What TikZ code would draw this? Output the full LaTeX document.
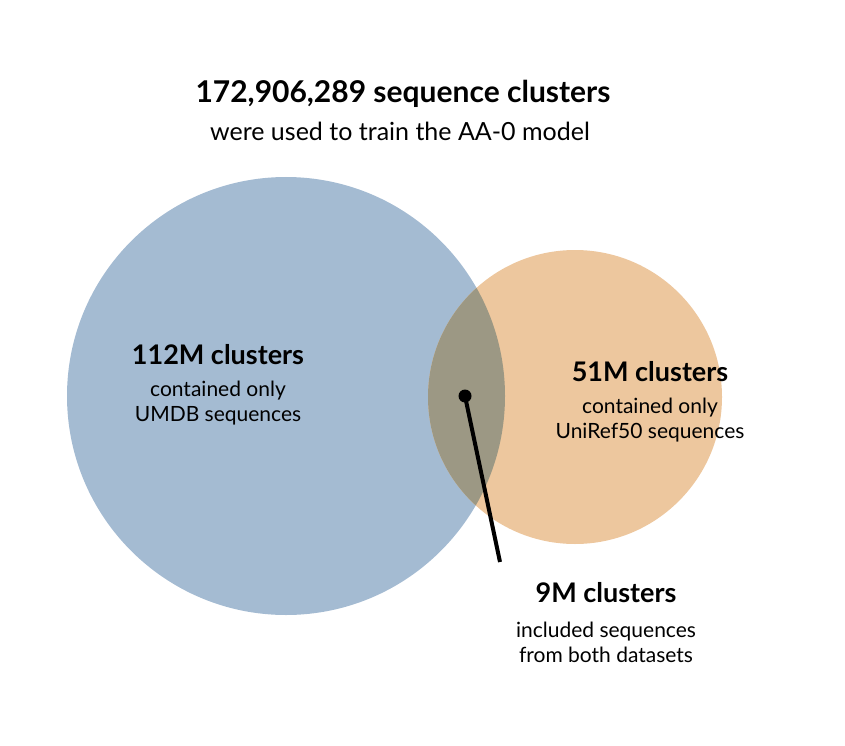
\documentclass[tikz,border=0pt]{standalone}
\usepackage{fontspec}
\setmainfont{Lato}
\definecolor{cblue}{HTML}{A4BBD2}
\definecolor{corange}{HTML}{EDC79E}
\definecolor{cmix}{HTML}{9C9884}
\begin{document}
\begin{tikzpicture}[x=1pt,y=-1pt,
 big/.style={font=\fontsize{30}{34}\selectfont\bfseries},
 head/.style={font=\fontsize{27}{30}\selectfont\bfseries},
 sub/.style={font=\fontsize{21}{25}\selectfont,align=center}]
\useasboundingbox (0,0) rectangle (845,746);
\fill[cblue] (286,396) circle (219);
\fill[corange] (575,397) circle (147);
\begin{scope}
\clip (286,396) circle (219);
\fill[cmix] (575,397) circle (147);
\end{scope}
\node[big] (t) at (403,94) {172,906,289 sequence clusters};
\node[sub,font=\fontsize{25}{28}\selectfont] (ts) at (400,131) {were used to train the AA-0 model};
\node[head] (a) at (218,355) {112M clusters};
\node[sub] (as) at (218,403) {contained only\\UMDB sequences};
\node[head] (b) at (650,372) {51M clusters};
\node[sub] (bs) at (650,420) {contained only\\UniRef50 sequences};
\node[head] (c) at (606,593) {9M clusters};
\node[sub] (cs) at (606,642) {included sequences\\from both datasets};
\coordinate (d) at (465,396);
\coordinate (e) at (500,562);
\fill (d) circle (6.5);
\draw[line width=4] (d) -- (e);
\end{tikzpicture}
\end{document}
